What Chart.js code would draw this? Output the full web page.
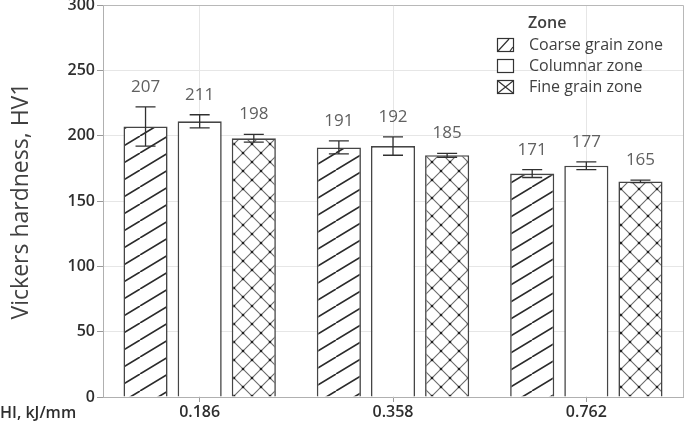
<!DOCTYPE html>
<html><head><meta charset="utf-8">
<script src="https://cdn.jsdelivr.net/npm/chart.js@4.4.0/dist/chart.umd.min.js"></script>
<style>html,body{margin:0;padding:0;background:#fff}#wrap{width:685px;height:426px}</style>
</head><body><div id="wrap"><canvas id="c" width="685" height="426"></canvas></div>
<script>
const categories = ['0.186', '0.358', '0.762'];
const seriesNames = ['Coarse grain zone', 'Columnar zone', 'Fine grain zone'];
const coarse = [207, 191, 171];
const coarseErr = [15, 5, 3];
const columnar = [211, 192, 177];
const columnarErr = [5, 7, 3];
const fine = [198, 185, 165];
const fineErr = [3, 1.5, 1];
const yTicks = [0, 50, 100, 150, 200, 250, 300];
const legendTitle = 'Zone';
const xTitle = 'HI, kJ/mm';
const yTitle = 'Vickers hardness, HV1';

const FONT = '"Open Sans", "Noto Sans", sans-serif';
const EDGE = '#454545';

function hatchPattern() {
  const w = 28, h = 17, c = document.createElement('canvas');
  c.width = w; c.height = h;
  const g = c.getContext('2d');
  g.fillStyle = '#fff'; g.fillRect(0, 0, w, h);
  g.strokeStyle = '#2a2a2a'; g.lineWidth = 1.6;
  g.beginPath();
  for (let k = -1; k <= 1; k++) {
    g.moveTo(k * w, h); g.lineTo(w + k * w, 0);
  }
  g.stroke();
  return g.createPattern(c, 'repeat');
}
function crossPattern() {
  const s = 18, c = document.createElement('canvas');
  c.width = s; c.height = s;
  const g = c.getContext('2d');
  g.fillStyle = '#fff'; g.fillRect(0, 0, s, s);
  g.strokeStyle = '#6a6a6a'; g.lineWidth = 1.1;
  g.beginPath();
  g.moveTo(0, 0); g.lineTo(s, s);
  g.moveTo(s, 0); g.lineTo(0, s);
  g.stroke();
  g.fillStyle = '#1e1e1e';
  [[0,0],[s,0],[0,s],[s,s],[s/2,s/2]].forEach(p => { g.beginPath(); g.arc(p[0], p[1], 1.3, 0, Math.PI*2); g.fill(); });
  return g.createPattern(c, 'repeat');
}

const errs = [coarseErr, columnarErr, fineErr];

const overlay = {
  id: 'overlay',
  afterDatasetsDraw(chart) {
    const ctx = chart.ctx, y = chart.scales.y, a = chart.chartArea;
    ctx.save();
    ctx.strokeStyle = '#b8b8b8'; ctx.lineWidth = 1;
    ctx.beginPath();
    ctx.moveTo(a.left, a.top + 0.5); ctx.lineTo(a.right + 0.5, a.top + 0.5); ctx.lineTo(a.right + 0.5, a.bottom);
    ctx.stroke();
    chart.data.datasets.forEach((ds, di) => {
      const meta = chart.getDatasetMeta(di);
      meta.data.forEach((bar, i) => {
        const v = ds.data[i], e = errs[di][i];
        const yt = y.getPixelForValue(v + e), yb = y.getPixelForValue(v - e);
        ctx.strokeStyle = '#303030'; ctx.lineWidth = 1.3;
        ctx.beginPath();
        ctx.moveTo(bar.x, yt); ctx.lineTo(bar.x, yb);
        ctx.moveTo(bar.x - 10, yt); ctx.lineTo(bar.x + 10, yt);
        ctx.moveTo(bar.x - 10, yb); ctx.lineTo(bar.x + 10, yb);
        ctx.stroke();
        ctx.fillStyle = '#606060';
        ctx.font = '17px ' + FONT;
        ctx.textAlign = 'center'; ctx.textBaseline = 'alphabetic';
        ctx.fillText(String(v), bar.x, yt - 15);
      });
    });
    const lx = 497, tx = 529;
    ctx.fillStyle = '#404040';
    ctx.textAlign = 'left'; ctx.textBaseline = 'middle';
    ctx.font = '600 16px ' + FONT;
    ctx.fillText(legendTitle, 528, 23);
    ctx.font = '16px ' + FONT;
    const rows = [45, 66, 87];
    chart.data.datasets.forEach((ds, di) => {
      const cy = rows[di];
      const bx = lx, by = cy - 7, bw = 16, bh = 13;
      ctx.fillStyle = '#fff';
      ctx.fillRect(bx, by, bw, bh);
      ctx.strokeStyle = '#333'; ctx.lineWidth = 1.2;
      ctx.strokeRect(bx + 0.5, by + 0.5, bw, bh);
      ctx.beginPath();
      if (di === 0) {
        ctx.moveTo(bx + 1, by + bh); ctx.lineTo(bx + bw - 4, by + 1);
        ctx.moveTo(bx + bw - 3, by + bh); ctx.lineTo(bx + bw, by + bh - 4);
      } else if (di === 2) {
        ctx.moveTo(bx + 1, by + 1); ctx.lineTo(bx + bw, by + bh);
        ctx.moveTo(bx + bw, by + 1); ctx.lineTo(bx + 1, by + bh);
      }
      ctx.stroke();
      ctx.fillStyle = '#404040';
      ctx.fillText(ds.label, tx, cy);
    });
    ctx.font = '600 16px ' + FONT;
    ctx.fillStyle = '#2e2e2e';
    ctx.textAlign = 'left'; ctx.textBaseline = 'middle';
    ctx.fillText(xTitle, 0, 413);
    ctx.restore();
  }
};

new Chart(document.getElementById('c'), {
  type: 'bar',
  data: {
    labels: categories,
    datasets: [
      { label: seriesNames[0], data: coarse, backgroundColor: hatchPattern(), borderColor: EDGE, borderWidth: 1.6 },
      { label: seriesNames[1], data: columnar, backgroundColor: '#ffffff', borderColor: EDGE, borderWidth: 1.6 },
      { label: seriesNames[2], data: fine, backgroundColor: crossPattern(), borderColor: EDGE, borderWidth: 1.6 }
    ]
  },
  options: {
    responsive: false,
    animation: false,
    devicePixelRatio: 1,
    layout: { padding: { top: 5, right: 2, left: 0, bottom: 0 } },
    categoryPercentage: 0.84,
    barPercentage: 0.815,
    plugins: { legend: { display: false }, tooltip: { enabled: false } },
    scales: {
      x: {
        grid: { offset: false, color: '#e6e6e6', tickColor: '#9a9a9a', tickLength: 5, drawTicks: true },
        border: { color: '#b0b0b0' },
        ticks: { color: '#2e2e2e', font: { family: FONT, size: 16, weight: '600' }, padding: 1 },
        afterFit(s) { s.height = 29; s.paddingLeft = 0; s.paddingRight = 0; }
      },
      y: {
        min: 0, max: 300,
        afterBuildTicks(s) { s.ticks = yTicks.map(v => ({ value: v })); },
        grid: { color: '#e6e6e6', tickColor: '#9a9a9a', tickLength: 6 },
        border: { color: '#b0b0b0' },
        ticks: { color: '#2e2e2e', font: { family: FONT, size: 16, weight: '600' }, padding: 2 },
        title: { display: true, text: yTitle, color: '#404040', font: { family: FONT, size: 23 }, padding: { top: 8, bottom: 6 } },
        afterFit(s) { s.width = 103; s.paddingTop = 0; s.paddingBottom = 0; }
      }
    }
  },
  plugins: [overlay]
});
</script></body></html>
